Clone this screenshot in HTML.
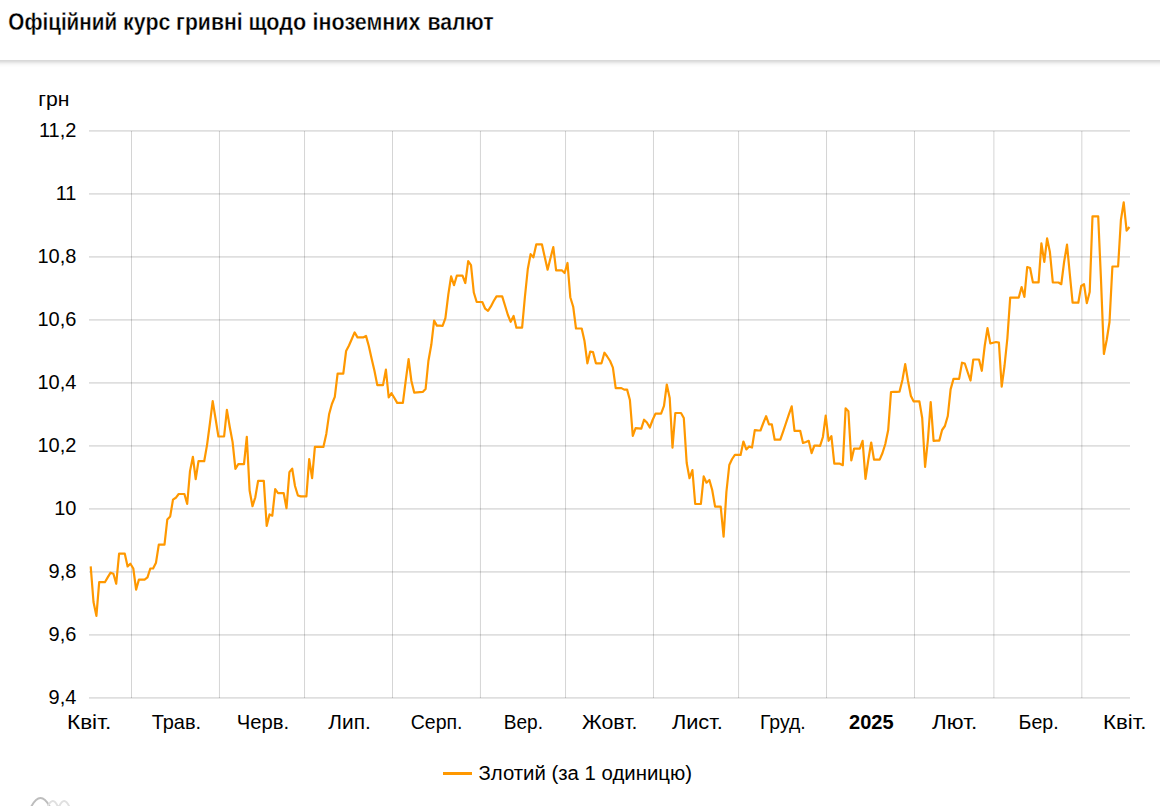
<!DOCTYPE html>
<html><head><meta charset="utf-8">
<style>
html,body{margin:0;padding:0;background:#fff;width:1160px;height:806px;overflow:hidden;}
svg{position:absolute;left:0;top:0;display:block;}
text{font-family:"Liberation Sans",sans-serif;font-size:20px;fill:#000;}
.title{font-weight:bold;font-size:24px;stroke:#fff;stroke-width:0.35px;}
</style></head>
<body>
<svg width="1160" height="806" viewBox="0 0 1160 806">
<rect x="0" y="60" width="1160" height="1" fill="#d9d9d9"/>
<rect x="0" y="61" width="1160" height="1" fill="#dfdfdf"/>
<rect x="0" y="62" width="1160" height="1" fill="#e8e8e8"/>
<rect x="0" y="63" width="1160" height="1" fill="#f1f1f1"/>
<rect x="0" y="64" width="1160" height="1" fill="#f7f7f7"/>
<rect x="0" y="65" width="1160" height="1" fill="#fbfbfb"/>
<rect x="0" y="66" width="1160" height="1" fill="#fdfdfd"/>
<text class="title" transform="translate(8.34,29.6) scale(0.8605,1)">Офіційний</text><text class="title" transform="translate(123.11,29.6) scale(0.8923,1)">курс</text><text class="title" transform="translate(176.12,29.6) scale(0.8822,1)">гривні</text><text class="title" transform="translate(248.40,29.6) scale(0.9000,1)">щодо</text><text class="title" transform="translate(312.60,29.6) scale(0.8958,1)">іноземних</text><text class="title" transform="translate(427.41,29.6) scale(0.8865,1)">валют</text>
<rect x="89" y="130" width="1041" height="1" fill="#000" fill-opacity="0.125"/><rect x="89" y="131" width="1041" height="1" fill="#000" fill-opacity="0.095"/><rect x="89" y="193" width="1041" height="1" fill="#000" fill-opacity="0.125"/><rect x="89" y="194" width="1041" height="1" fill="#000" fill-opacity="0.095"/><rect x="89" y="256" width="1041" height="1" fill="#000" fill-opacity="0.125"/><rect x="89" y="257" width="1041" height="1" fill="#000" fill-opacity="0.095"/><rect x="89" y="319" width="1041" height="1" fill="#000" fill-opacity="0.125"/><rect x="89" y="320" width="1041" height="1" fill="#000" fill-opacity="0.095"/><rect x="89" y="382" width="1041" height="1" fill="#000" fill-opacity="0.125"/><rect x="89" y="383" width="1041" height="1" fill="#000" fill-opacity="0.095"/><rect x="89" y="445" width="1041" height="1" fill="#000" fill-opacity="0.125"/><rect x="89" y="446" width="1041" height="1" fill="#000" fill-opacity="0.095"/><rect x="89" y="508" width="1041" height="1" fill="#000" fill-opacity="0.125"/><rect x="89" y="509" width="1041" height="1" fill="#000" fill-opacity="0.095"/><rect x="89" y="571" width="1041" height="1" fill="#000" fill-opacity="0.125"/><rect x="89" y="572" width="1041" height="1" fill="#000" fill-opacity="0.095"/><rect x="89" y="634" width="1041" height="1" fill="#000" fill-opacity="0.125"/><rect x="89" y="635" width="1041" height="1" fill="#000" fill-opacity="0.095"/><rect x="89" y="697" width="1041" height="1" fill="#000" fill-opacity="0.125"/><rect x="89" y="698" width="1041" height="1" fill="#000" fill-opacity="0.095"/><rect x="131.00" y="131" width="1" height="567" fill="#000" fill-opacity="0.17"/><rect x="218.94" y="131" width="1" height="567" fill="#000" fill-opacity="0.17"/><rect x="304.04" y="131" width="1" height="567" fill="#000" fill-opacity="0.17"/><rect x="391.99" y="131" width="1" height="567" fill="#000" fill-opacity="0.17"/><rect x="479.93" y="131" width="1" height="567" fill="#000" fill-opacity="0.17"/><rect x="565.03" y="131" width="1" height="567" fill="#000" fill-opacity="0.17"/><rect x="652.97" y="131" width="1" height="567" fill="#000" fill-opacity="0.17"/><rect x="738.08" y="131" width="1" height="567" fill="#000" fill-opacity="0.17"/><rect x="826.02" y="131" width="1" height="567" fill="#000" fill-opacity="0.17"/><rect x="913.96" y="131" width="1" height="567" fill="#000" fill-opacity="0.17"/><rect x="993.39" y="131" width="1" height="567" fill="#000" fill-opacity="0.17"/><rect x="1081.33" y="131" width="1" height="567" fill="#000" fill-opacity="0.17"/>
<text transform="translate(38.3,106) scale(1.06,1)">грн</text>
<text x="76.4" y="136.7" text-anchor="end">11,2</text><text x="76.4" y="199.7" text-anchor="end">11</text><text x="76.4" y="262.7" text-anchor="end">10,8</text><text x="76.4" y="325.7" text-anchor="end">10,6</text><text x="76.4" y="388.7" text-anchor="end">10,4</text><text x="76.4" y="451.7" text-anchor="end">10,2</text><text x="76.4" y="514.7" text-anchor="end">10</text><text x="76.4" y="577.7" text-anchor="end">9,8</text><text x="76.4" y="640.7" text-anchor="end">9,6</text><text x="76.4" y="703.7" text-anchor="end">9,4</text>
<text transform="translate(66.97,729) scale(1.1297,1)">Квіт.</text><text transform="translate(151.70,729) scale(0.9979,1)">Трав.</text><text transform="translate(236.69,729) scale(1.0122,1)">Черв.</text><text transform="translate(328.30,729) scale(1.0436,1)">Лип.</text><text transform="translate(410.73,729) scale(0.9745,1)">Серп.</text><text transform="translate(503.75,729) scale(0.9538,1)">Вер.</text><text transform="translate(581.90,729) scale(1.0686,1)">Жовт.</text><text transform="translate(671.90,729) scale(1.0889,1)">Лист.</text><text transform="translate(759.93,729) scale(0.9711,1)">Груд.</text><text transform="translate(849.00,729) scale(1.0023,1)" font-weight="bold">2025</text><text transform="translate(932.10,729) scale(1.1231,1)">Лют.</text><text transform="translate(1018.62,729) scale(0.9789,1)">Бер.</text><text transform="translate(1102.99,729) scale(1.1108,1)">Квіт.</text>
<polyline points="90.7,566.4 93.5,602.0 96.4,615.9 99.2,582.2 102.1,582.2 104.9,582.2 107.7,577.4 110.6,572.7 113.4,573.8 116.2,583.8 119.1,553.7 121.9,553.7 124.8,553.7 127.6,566.4 130.4,563.7 133.3,568.5 136.1,589.6 138.9,579.6 141.8,579.6 144.6,579.6 147.5,577.4 150.3,568.5 153.1,568.5 156.0,562.7 158.8,544.7 161.7,544.7 164.5,544.7 167.3,519.5 170.2,516.4 173.0,499.6 175.8,497.8 178.7,494.0 181.5,494.0 184.4,494.0 187.2,504.0 190.0,471.1 192.9,456.8 195.7,479.2 198.5,461.2 201.4,461.2 204.2,461.2 207.1,444.6 209.9,423.5 212.7,401.2 215.6,418.9 218.4,436.5 221.2,436.5 224.1,436.5 226.9,409.9 229.8,427.2 232.6,442.1 235.4,468.8 238.3,464.2 241.1,464.2 244.0,464.2 246.8,436.9 249.6,490.5 252.5,506.2 255.3,497.3 258.1,480.9 261.0,480.9 263.8,480.9 266.7,526.0 269.5,514.4 272.3,515.7 275.2,489.1 278.0,493.2 280.8,493.2 283.7,493.2 286.5,508.2 289.4,472.1 292.2,468.7 295.0,486.0 297.9,495.5 300.7,496.4 303.6,496.4 306.4,496.4 309.2,459.2 312.1,478.1 314.9,446.9 317.7,446.9 320.6,446.9 323.4,446.9 326.3,433.9 329.1,414.3 331.9,404.0 334.8,396.9 337.6,373.6 340.4,373.6 343.3,373.6 346.1,351.0 349.0,345.5 351.8,339.0 354.6,332.4 357.5,337.4 360.3,337.4 363.1,337.4 366.0,335.9 368.8,346.0 371.7,359.0 374.5,371.0 377.3,385.1 380.2,385.1 383.0,385.1 385.9,369.6 388.7,397.5 391.5,393.2 394.4,398.0 397.2,402.9 400.0,402.9 402.9,402.9 405.7,380.8 408.6,359.1 411.4,381.0 414.2,392.6 417.1,392.4 419.9,392.2 422.7,392.0 425.6,389.0 428.4,361.0 431.3,344.8 434.1,320.6 436.9,325.6 439.8,325.7 442.6,325.8 445.4,318.2 448.3,294.7 451.1,276.3 454.0,285.2 456.8,275.7 459.6,275.7 462.5,275.7 465.3,283.0 468.2,261.2 471.0,265.1 473.8,292.5 476.7,302.0 479.5,302.0 482.3,302.0 485.2,308.7 488.0,310.9 490.9,306.4 493.7,301.0 496.5,296.4 499.4,296.4 502.2,296.4 505.0,305.5 507.9,315.0 510.7,321.8 513.6,315.9 516.4,327.7 519.2,327.7 522.1,327.7 524.9,297.0 527.8,269.0 530.6,254.1 533.4,257.3 536.3,244.3 539.1,244.3 541.9,244.3 544.8,257.3 547.6,269.7 550.5,258.0 553.3,247.1 556.1,270.3 559.0,270.3 561.8,270.3 564.6,273.0 567.5,263.0 570.3,297.2 573.2,306.7 576.0,328.5 578.8,328.5 581.7,328.5 584.5,341.0 587.4,363.3 590.2,351.5 593.0,352.1 595.9,363.3 598.7,363.3 601.5,363.3 604.4,352.7 607.2,356.5 610.1,361.0 612.9,367.6 615.7,388.1 618.6,388.1 621.4,388.1 624.2,389.6 627.1,389.6 629.9,400.0 632.8,435.9 635.6,428.1 638.4,428.4 641.3,428.7 644.1,419.7 646.9,422.5 649.8,427.5 652.6,420.0 655.5,413.6 658.3,413.6 661.1,413.6 664.0,405.8 666.8,384.5 669.7,398.0 672.5,447.7 675.3,413.0 678.2,413.0 681.0,413.0 683.8,418.0 686.7,463.0 689.5,478.2 692.4,470.1 695.2,504.0 698.0,504.0 700.9,504.0 703.7,476.4 706.5,482.7 709.4,480.0 712.2,490.0 715.1,506.6 717.9,506.6 720.7,506.6 723.6,536.7 726.4,492.0 729.3,465.0 732.1,459.0 734.9,454.9 737.8,454.9 740.6,454.9 743.4,441.5 746.3,449.4 749.1,446.4 752.0,447.6 754.8,430.2 757.6,430.4 760.5,430.5 763.3,423.0 766.1,416.2 769.0,424.3 771.8,424.3 774.7,439.7 777.5,439.7 780.3,439.7 783.2,431.4 786.0,423.0 788.8,414.7 791.7,406.4 794.5,430.8 797.4,430.8 800.2,430.8 803.0,443.0 805.9,442.0 808.7,440.8 811.6,453.1 814.4,445.5 817.2,445.6 820.1,445.8 822.9,437.0 825.7,415.7 828.6,440.8 831.4,436.1 834.3,463.7 837.1,463.7 839.9,463.7 842.8,465.2 845.6,408.4 848.4,411.2 851.3,460.4 854.1,448.6 857.0,448.6 859.8,448.6 862.6,440.8 865.5,478.8 868.3,460.0 871.2,442.5 874.0,459.6 876.8,459.6 879.7,459.6 882.5,453.0 885.3,444.0 888.2,430.0 891.0,392.0 893.9,391.9 896.7,391.8 899.5,391.7 902.4,380.0 905.2,364.1 908.0,381.0 910.9,396.0 913.7,401.4 916.6,401.4 919.4,401.4 922.2,418.0 925.1,466.9 927.9,440.0 930.7,402.1 933.6,440.8 936.4,440.7 939.3,440.6 942.1,430.0 944.9,426.0 947.8,416.0 950.6,389.4 953.5,378.9 956.3,378.9 959.1,378.9 962.0,362.7 964.8,363.5 967.6,372.0 970.5,380.5 973.3,359.5 976.2,359.5 979.0,359.5 981.8,370.8 984.7,346.0 987.5,328.1 990.3,343.4 993.2,342.7 996.0,342.0 998.9,342.6 1001.7,386.7 1004.5,366.0 1007.4,338.0 1010.2,297.7 1013.1,297.7 1015.9,297.7 1018.7,297.7 1021.6,287.0 1024.4,297.0 1027.2,267.0 1030.1,268.0 1032.9,282.4 1035.8,282.4 1038.6,282.4 1041.4,243.4 1044.3,261.9 1047.1,238.4 1049.9,252.0 1052.8,282.5 1055.6,282.5 1058.5,282.5 1061.3,284.2 1064.1,262.0 1067.0,244.6 1069.8,274.0 1072.6,302.7 1075.5,302.7 1078.3,302.7 1081.2,286.0 1084.0,284.2 1086.8,303.2 1089.7,292.0 1092.5,216.3 1095.4,216.3 1098.2,216.3 1101.0,280.0 1103.9,354.0 1106.7,340.0 1109.5,322.0 1112.4,266.5 1115.2,266.5 1118.1,266.5 1120.9,220.0 1123.7,202.4 1126.6,230.7 1129.4,227.0" fill="none" stroke="#ff9800" stroke-width="2.2" stroke-linejoin="round" stroke-linecap="butt"/>
<rect x="443" y="772" width="29" height="3" fill="#ff9800"/>
<text transform="translate(478.5,779.5) scale(1.0183,1)">Злотий (за 1 одиницю)</text>
<g fill="none" stroke-width="2">
<path d="M30.5,808 Q40.5,788 50.5,808" stroke="#bdbdbd"/>
<path d="M47,808 Q53,794 58.5,808 Q64,794 70,808" stroke="#e0e0e0"/>
</g>
</svg>
</body></html>
